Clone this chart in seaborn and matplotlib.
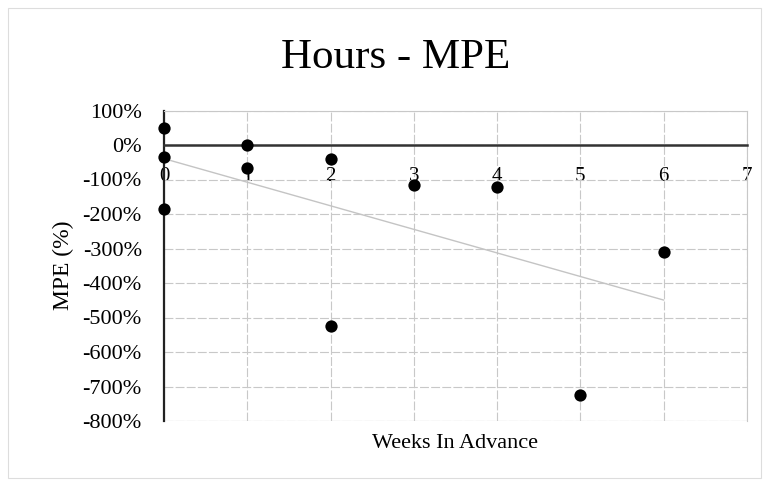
import matplotlib
matplotlib.use("Agg")
import matplotlib.pyplot as plt
import seaborn as sns
import pandas as pd
from matplotlib.ticker import FuncFormatter, MultipleLocator
from matplotlib.patches import Rectangle

weeks = [0, 0, 0, 1, 1, 2, 2, 3, 4, 5, 6]
mpe = [50, -36, -186, 0, -66, -41, -525, -116, -121, -725, -309]
x_ticks = [0, 1, 2, 3, 4, 5, 6, 7]
title = "Hours - MPE"
xlabel = "Weeks In Advance"
ylabel = "MPE (%)"

df = pd.DataFrame({"weeks": weeks, "mpe": mpe})

sns.set_theme(style="white")
plt.rcParams['font.family'] = ['Liberation Serif', 'DejaVu Serif']

fig = plt.figure(figsize=(7.69, 4.80), dpi=100)
ax = fig.add_axes([164/769, 1-421/480, (747-164)/769, (421-110.5)/480])

# faint outer frame
fig.patches.append(Rectangle((8/769, 2/480), 1-16/769, 1-10/480, transform=fig.transFigure,
                             fill=False, edgecolor="#dddddd", linewidth=0.8))

sns.regplot(data=df, x="weeks", y="mpe", ax=ax, scatter=False, ci=None, truncate=True,
            line_kws=dict(color="#c4c4c4", linewidth=1.0, zorder=3))
sns.scatterplot(data=df, x="weeks", y="mpe", ax=ax, color="black", s=78,
                edgecolor="black", linewidth=0, zorder=5, clip_on=False)

ax.set_xlim(0, 7)
ax.set_ylim(-800, 100)
ax.set_xticks(x_ticks)
ax.yaxis.set_major_locator(MultipleLocator(100))
ax.yaxis.set_major_formatter(FuncFormatter(lambda v, p: f"{int(round(v))}%"))

ax.grid(True, color="#c8c8c8", linewidth=0.8, linestyle=(0, (8, 2)))
ax.set_axisbelow(True)

ax.spines['bottom'].set_position(('data', 0))
ax.spines['bottom'].set_color("#333333")
ax.spines['bottom'].set_linewidth(1.8)
ax.spines['left'].set_color("#222222")
ax.spines['left'].set_linewidth(1.6)
for s in ['top', 'right']:
    ax.spines[s].set_color("#c8c8c8")
    ax.spines[s].set_linewidth(0.8)
ax.axhline(-800, color="#c8c8c8", linewidth=0.8, zorder=1)

ax.tick_params(axis='x', length=0, pad=16, labelsize=15, colors="black")
ax.tick_params(axis='y', length=0, pad=16, labelsize=16, colors="black")
for lab in ax.get_xticklabels():
    lab.set_zorder(4)

ax.set_xlabel(xlabel, fontsize=16, color="black")
ax.set_ylabel(ylabel, fontsize=17, color="black")
ax.xaxis.set_label_coords(0.5, -0.043)
ax.yaxis.set_label_coords(-0.155, 0.5)

fig.text(396/769, 1-68/480, title, ha="center", va="baseline", fontsize=31, color="black")

fig.savefig("out.png", dpi=100, facecolor="white")
